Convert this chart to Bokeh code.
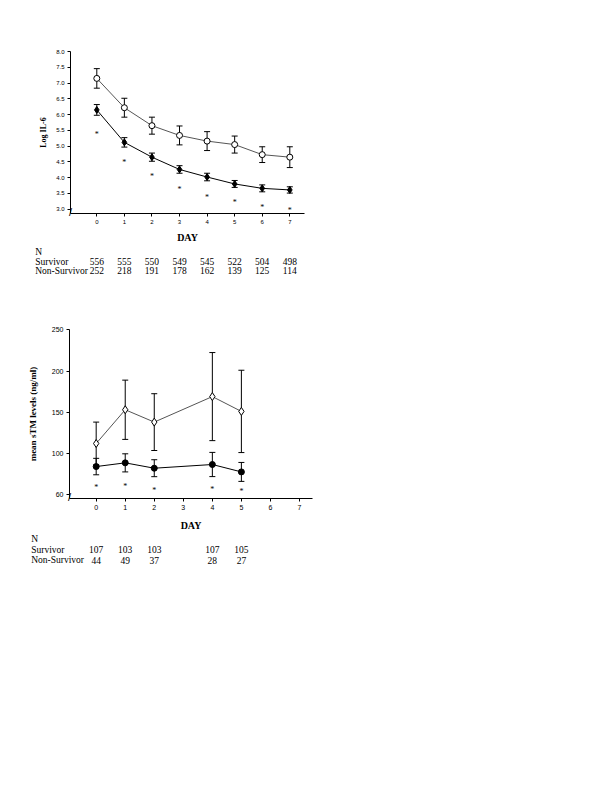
from bokeh.plotting import figure
from bokeh.layouts import column, row
from bokeh.models import Range1d, FixedTicker, Spacer, CustomJSTickFormatter
from bokeh.core.properties import value
from bokeh.embed import file_html
from bokeh.resources import INLINE

# ---------------- data: chart 1 (Log IL-6) ----------------
days1 = [0, 1, 2, 3, 4, 5, 6, 7]
il6_nonsurv = [7.15, 6.22, 5.65, 5.34, 5.16, 5.05, 4.73, 4.65]
il6_nonsurv_err = [0.31, 0.30, 0.27, 0.30, 0.30, 0.27, 0.25, 0.33]
il6_surv = [6.15, 5.12, 4.65, 4.26, 4.02, 3.80, 3.66, 3.61]
il6_surv_err = [0.17, 0.15, 0.13, 0.12, 0.12, 0.11, 0.11, 0.10]
il6_star = [5.43, 4.54, 4.09, 3.68, 3.44, 3.26, 3.13, 3.01]
il6_yticks = [3.0, 3.5, 4.0, 4.5, 5.0, 5.5, 6.0, 6.5, 7.0, 7.5, 8.0]
n1_surv = ["556", "555", "550", "549", "545", "522", "504", "498"]
n1_nonsurv = ["252", "218", "191", "178", "162", "139", "125", "114"]

# ---------------- data: chart 2 (sTM) ----------------
days2 = [0, 1, 2, 4, 5]
stm_nonsurv = [112, 153, 138, 169, 151]
stm_nonsurv_err = [26, 36, 34.5, 53.5, 50]
stm_surv = [84, 88.5, 82, 86.5, 77.5]
stm_surv_err = [10, 11, 10.3, 14.7, 11.5]
stm_star = [60.7, 62.7, 57.5, 58.7, 55.6]
stm_yticks = [50, 100, 150, 200, 250]
stm_ytick_labels = {50: "60"}
n2_surv = ["107", "103", "103", "107", "105"]
n2_nonsurv = ["44", "49", "37", "28", "27"]

row_labels = ["N", "Survivor", "Non-Survivor"]
all_days = [0, 1, 2, 3, 4, 5, 6, 7]

SERIF = "Liberation Serif"
SANS = "Liberation Sans"
PAD = 7  # page offset correction


def make_chart(width, height, left, right, top, bottom, xr, yr, yticks,
               ylabel, ylabel_size, tick_size, ylabel_standoff, xlabel_standoff):
    p = figure(width=width, height=height, output_backend="svg",
               toolbar_location=None, x_range=Range1d(*xr), y_range=Range1d(*yr),
               min_border_left=left, min_border_right=right,
               min_border_top=top, min_border_bottom=bottom)
    p.outline_line_color = None
    p.xgrid.visible = False
    p.ygrid.visible = False
    for ax in (p.xaxis[0], p.yaxis[0]):
        ax.axis_line_color = "black"
        ax.major_tick_line_color = "black"
        ax.minor_tick_line_color = None
        ax.major_tick_out = 3
        ax.major_tick_in = 0
        ax.major_label_text_font = SANS
        ax.major_label_text_font_size = f"{tick_size}px"
        ax.major_label_text_color = "black"
        ax.axis_label_text_font = SERIF
        ax.axis_label_text_font_style = "bold"
        ax.axis_label_text_color = "black"
    p.xaxis.ticker = FixedTicker(ticks=all_days)
    p.xaxis.major_label_standoff = 3
    p.xaxis.axis_label = "DAY"
    p.xaxis.axis_label_text_font_size = "10px"
    p.xaxis.axis_label_standoff = xlabel_standoff
    p.yaxis.ticker = FixedTicker(ticks=yticks)
    p.yaxis.major_label_standoff = 3
    p.yaxis.axis_label = ylabel
    p.yaxis.axis_label_text_font_size = f"{ylabel_size}px"
    p.yaxis.axis_label_standoff = ylabel_standoff
    # axis-break slash at the origin corner
    p.text(x=[xr[0]], y=[yr[0]], text=["/"], text_font=value(SANS),
           text_font_size="11px", text_align="center",
           text_baseline="middle", y_offset=-2, text_color="black",
           level="overlay")
    return p


def draw_series(p, x, y, err, marker, fill, size, line_color="#555555"):
    lo = [a - b for a, b in zip(y, err)]
    hi = [a + b for a, b in zip(y, err)]
    p.line(x, y, line_color=line_color, line_width=1)
    p.segment(x0=x, y0=lo, x1=x, y1=hi, line_color="black", line_width=1)
    p.scatter(x, lo, marker="dash", size=6, line_color="black", line_width=1)
    p.scatter(x, hi, marker="dash", size=6, line_color="black", line_width=1)
    p.scatter(x, y, marker=marker, size=size, fill_color=fill,
              line_color="black", line_width=1)


def make_table(width, height, xr, yr, label_x, xs, rows):
    t = figure(width=width, height=height, output_backend="svg",
               toolbar_location=None, x_range=Range1d(*xr), y_range=Range1d(*yr),
               min_border=0, min_border_left=0, min_border_right=0,
               min_border_top=0, min_border_bottom=0)
    t.axis.visible = False
    t.grid.visible = False
    t.outline_line_color = None
    t.text(x=[label_x] * 3, y=[0, 1, 2], text=row_labels,
           text_font=value(SERIF), text_font_size="9.5px",
           text_align="left", text_baseline="middle", text_color="black")
    for r, vals in enumerate(rows, start=1):
        t.text(x=xs, y=[r] * len(vals), text=vals, text_font=value(SERIF),
               text_font_size="9.5px", text_align="center",
               text_baseline="middle", text_color="black")
    return t


# ---------- chart 1 ----------
L1, FW1, R1, T1, FH1, B1 = 63 + PAD, 234, 23, 44 + PAD, 162, 32
W1 = L1 + FW1 + R1
xr1 = (-0.954, 7.533)
yr1 = (2.862, 8.004)
p1 = make_chart(W1, T1 + FH1 + B1, L1, R1, T1, B1, xr1, yr1, il6_yticks,
                "Log IL-6", 8, 6, 5, 5)
p1.yaxis.formatter = CustomJSTickFormatter(code="return tick.toFixed(1);")
draw_series(p1, days1, il6_nonsurv, il6_nonsurv_err, "circle", "white", 6)
draw_series(p1, days1, il6_surv, il6_surv_err, "diamond", "black", 7, "black")
p1.text(x=days1, y=il6_star, text=["*"] * len(days1), text_font=value(SERIF),
        text_font_size="8px", text_align="center", text_baseline="middle",
        y_offset=2, text_color="black")

sc1 = FW1 / (xr1[1] - xr1[0])
txr1 = (xr1[0] - L1 / sc1, xr1[1] + R1 / sc1)
tab1 = make_table(W1, 36, txr1, (3.17, -0.765), txr1[0] + (27.7 + PAD) / sc1,
                  days1, [n1_surv, n1_nonsurv])

# ---------- chart 2 ----------
L2, FW2, R2, T2, FH2, B2 = 62 + PAD, 243, 25, 44, 172, 32
W2 = L2 + FW2 + R2
xr2 = (-0.919, 7.449)
yr2 = (45.2, 250.5)
p2 = make_chart(W2, T2 + FH2 + B2, L2, R2, T2, B2, xr2, yr2, stm_yticks,
                "mean sTM levels (ng/ml)", 9, 7, 11, 7)
p2.yaxis.major_label_overrides = stm_ytick_labels
draw_series(p2, days2, stm_nonsurv, stm_nonsurv_err, "diamond", "white", 8)
draw_series(p2, days2, stm_surv, stm_surv_err, "circle", "black", 6, "black")
p2.text(x=days2, y=stm_star, text=["*"] * len(days2), text_font=value(SERIF),
        text_font_size="8px", text_align="center", text_baseline="middle",
        y_offset=2, text_color="black")

sc2 = FW2 / (xr2[1] - xr2[0])
txr2 = (xr2[0] - L2 / sc2, xr2[1] + R2 / sc2)
tab2 = make_table(W2, 36, txr2, (2.91, -0.58), txr2[0] + (23.7 + PAD) / sc2,
                  days2, [n2_surv, n2_nonsurv])

layout = column(row(p1), row(tab1), Spacer(height=4, width=10),
                row(p2), row(tab2), spacing=0)

open("out.html", "w").write(file_html(layout, INLINE))
